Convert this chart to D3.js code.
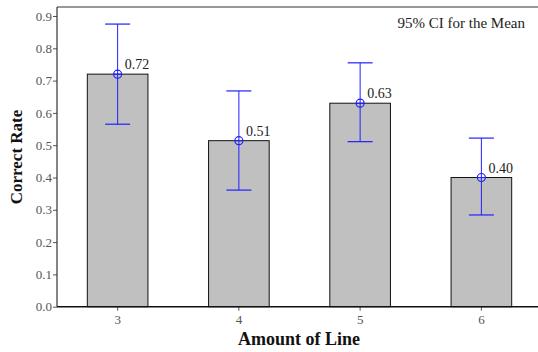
<!DOCTYPE html>
<html>
<head>
<meta charset="utf-8">
<script src="https://cdn.jsdelivr.net/npm/d3@7"></script>
<style>
  body { margin: 0; background: #fff; }
  svg { display: block; }
  text { font-family: "Liberation Serif", "Times New Roman", serif; }
</style>
</head>
<body>
<figure id="bar" style="margin:0"></figure>
<script>
const categories = ["3", "4", "5", "6"];
const means = [0.72, 0.514, 0.63, 0.40];
const ciLow = [0.565, 0.361, 0.511, 0.284];
const ciHigh = [0.875, 0.668, 0.755, 0.522];
const meanLabels = ["0.72", "0.51", "0.63", "0.40"];
const yTicks = [0, 0.1, 0.2, 0.3, 0.4, 0.5, 0.6, 0.7, 0.8, 0.9];

const data = categories.map((c, i) => ({ cat: c, mean: means[i], lo: ciLow[i], hi: ciHigh[i], label: meanLabels[i] }));

const width = 538, height = 352;
const plotLeft = 57, plotTop = 7, plotRight = 542, plotBottom = 306.7;

const svg = d3.select("figure#bar")
  .append("svg")
  .attr("width", width)
  .attr("height", height);

const x = d3.scaleBand()
  .domain(categories)
  .range([plotLeft, plotRight])
  .paddingInner(0.5)
  .paddingOuter(0.25);

const y = d3.scaleLinear()
  .domain([0, 0.9])
  .range([plotBottom, 16]);

// bars
svg.selectAll("rect.bar")
  .data(data)
  .enter()
  .append("rect")
  .attr("class", "bar")
  .attr("x", d => x(d.cat))
  .attr("y", d => y(d.mean))
  .attr("width", x.bandwidth())
  .attr("height", d => y(0) - y(d.mean))
  .attr("fill", "#c0c0c0")
  .attr("stroke", "#111")
  .attr("stroke-width", 1);

// top border
svg.append("line")
  .attr("x1", plotLeft).attr("x2", width)
  .attr("y1", plotTop).attr("y2", plotTop)
  .attr("stroke", "#333").attr("stroke-width", 1.2);

// y axis
const yAxis = svg.append("g")
  .attr("transform", "translate(" + plotLeft + ",0)")
  .call(d3.axisLeft(y).tickValues(yTicks).tickFormat(d3.format(".1f")).tickSize(4).tickSizeOuter(0));
yAxis.attr("font-family", null);
yAxis.select(".domain").remove();
yAxis.append("line")
  .attr("x1", 0).attr("x2", 0)
  .attr("y1", plotTop).attr("y2", plotBottom)
  .attr("stroke", "#333").attr("stroke-width", 1.2);
yAxis.selectAll(".tick line").attr("stroke", "#555");
yAxis.selectAll(".tick text")
  .attr("fill", "#555")
  .attr("font-size", 13)
  .attr("x", -5);

// x axis
const xAxis = svg.append("g")
  .attr("transform", "translate(0," + plotBottom + ")")
  .call(d3.axisBottom(x).tickSize(4).tickSizeOuter(0));
xAxis.attr("font-family", null);
xAxis.select(".domain").remove();
xAxis.append("line")
  .attr("x1", plotLeft).attr("x2", width)
  .attr("y1", 0).attr("y2", 0)
  .attr("stroke", "#111").attr("stroke-width", 1.4);
xAxis.selectAll(".tick line").attr("stroke", "#555");
xAxis.selectAll(".tick text")
  .attr("fill", "#555")
  .attr("font-size", 13)
  .attr("y", 8);

// error bars
const blue = "#2020ff";
const cx = d => x(d.cat) + x.bandwidth() / 2;
const capW = 12.5;
const err = svg.selectAll("g.err")
  .data(data)
  .enter()
  .append("g")
  .attr("class", "err");
err.append("line")
  .attr("x1", cx).attr("x2", cx)
  .attr("y1", d => y(d.lo)).attr("y2", d => y(d.hi))
  .attr("stroke", blue).attr("stroke-width", 1);
err.append("line")
  .attr("x1", d => cx(d) - capW).attr("x2", d => cx(d) + capW)
  .attr("y1", d => y(d.hi)).attr("y2", d => y(d.hi))
  .attr("stroke", blue).attr("stroke-width", 1.2);
err.append("line")
  .attr("x1", d => cx(d) - capW).attr("x2", d => cx(d) + capW)
  .attr("y1", d => y(d.lo)).attr("y2", d => y(d.lo))
  .attr("stroke", blue).attr("stroke-width", 1.2);
err.append("circle")
  .attr("cx", cx).attr("cy", d => y(d.mean)).attr("r", 4)
  .attr("fill", "none").attr("stroke", blue).attr("stroke-width", 1.2);
err.append("line")
  .attr("x1", d => cx(d) - 4).attr("x2", d => cx(d) + 4)
  .attr("y1", d => y(d.mean)).attr("y2", d => y(d.mean))
  .attr("stroke", blue).attr("stroke-width", 1);
err.append("text")
  .attr("x", d => cx(d) + 7)
  .attr("y", d => y(d.mean) - 5)
  .attr("font-size", 14)
  .attr("fill", "#222")
  .text(d => d.label);

// annotation
svg.append("text")
  .attr("x", 525).attr("y", 28)
  .attr("text-anchor", "end")
  .attr("font-size", 15)
  .attr("fill", "#222")
  .text("95% CI for the Mean");

// axis titles
svg.append("text")
  .attr("x", 299).attr("y", 345)
  .attr("text-anchor", "middle")
  .attr("font-size", 18)
  .attr("font-weight", "bold")
  .attr("fill", "#111")
  .text("Amount of Line");

svg.append("text")
  .attr("transform", "translate(22,157) rotate(-90)")
  .attr("text-anchor", "middle")
  .attr("font-size", 17)
  .attr("font-weight", "bold")
  .attr("fill", "#111")
  .text("Correct Rate");
</script>
</body>
</html>
